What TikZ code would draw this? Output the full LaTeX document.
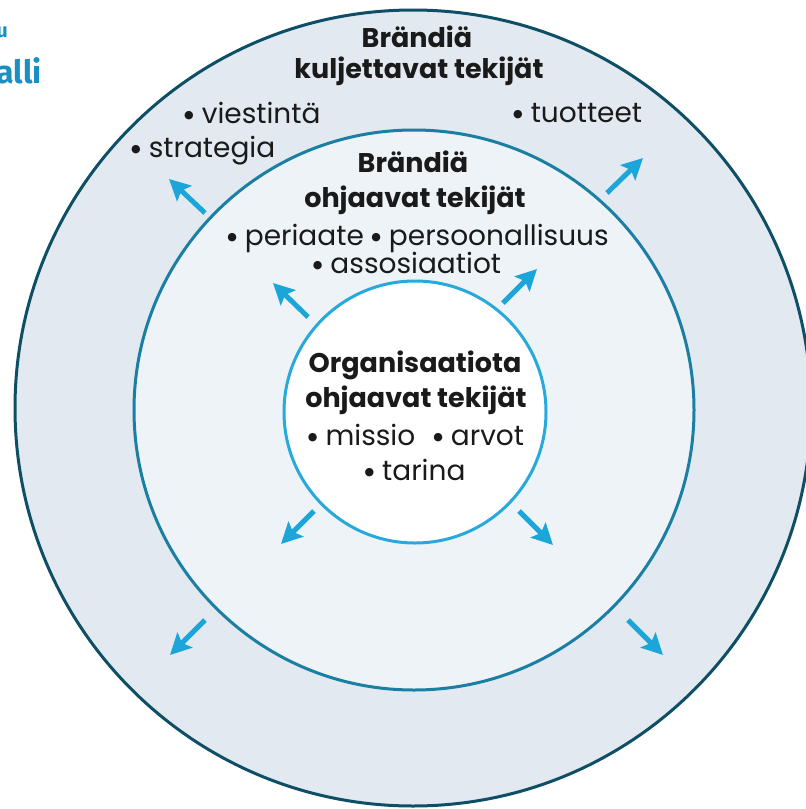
\documentclass[tikz,border=0pt]{standalone}
\usepackage{fontspec}
\setmainfont{Poppins}
\newfontfamily\titlefont{Fira Sans}
\newfontfamily\dejavu{DejaVu Sans}
\usetikzlibrary{arrows.meta}
\definecolor{outerfill}{HTML}{E2E9F0}
\definecolor{outerline}{HTML}{0E4F66}
\definecolor{midfill}{HTML}{EEF3F7}
\definecolor{midline}{HTML}{1B7FA3}
\definecolor{innerline}{HTML}{27A9DB}
\definecolor{arrowcol}{HTML}{1BA5D8}
\definecolor{titlecol}{HTML}{1A8FC0}
\definecolor{txt}{HTML}{1A1A1A}
\newcommand\bul{\raisebox{4.5pt}{\dejavu\fontsize{11}{11}\selectfont ●}\hspace{8pt}}
\tikzset{
  lbl/.style={inner sep=0pt, anchor=base, text=txt, font=\fontsize{28}{32}\selectfont},
  lblw/.style={lbl, anchor=base west},
  head/.style={lbl, font=\fontsize{27}{32}\selectfont\bfseries},
  flow/.style={draw=arrowcol, line width=5pt, -{Stealth[length=21pt,width=21pt,inset=4pt]}},
}
\begin{document}
\begin{tikzpicture}[x=1pt,y=-1pt]
\useasboundingbox (0,0) rectangle (806,809);
% circles
\fill[outerfill] (413,408) circle (398);
\draw[outerline, line width=3pt] (413,408) circle (398);
\fill[midfill] (414,410) circle (280);
\draw[midline, line width=3pt] (414,410) circle (280);
\fill[white] (415,412) circle (131);
\draw[innerline, line width=3pt] (415,412) circle (131);
% title fragments
\node[inner sep=0pt, anchor=base east, text=titlecol, font=\titlefont\bfseries\fontsize{20}{24}\selectfont] (t1) at (8,37) {u};
\node[inner sep=0pt, anchor=base east, text=titlecol, font=\titlefont\bfseries\fontsize{32}{36}\selectfont] (t2) at (42,83) {alli};
% outer ring texts
\node[head] (o1) at (417,47) {Brändiä};
\node[head] (o2) at (419,78) {kuljettavat tekijät};
\node[lblw] (o3) at (184,123) {\bul viestintä};
\node[lblw] (o4) at (131,157) {\bul strategia};
\node[lblw] (o5) at (513,122) {\bul tuotteet};
% middle ring texts
\node[head] (m1) at (413,172) {Brändiä};
\node[head] (m2) at (415,207) {ohjaavat tekijät};
\node[lbl] (m3) at (418,245) {\bul periaate \bul persoonallisuus};
\node[lbl] (m4) at (407,273) {\bul assosiaatiot};
% inner texts
\node[head] (i1) at (415,372) {Organisaatiota};
\node[head] (i2) at (416,407) {ohjaavat tekijät};
\node[lbl] (i3) at (416,445) {\bul missio\hspace{18pt}\bul arvot};
\node[lbl] (i4) at (415,480) {\bul tarina};
% arrow coordinates
\coordinate (a1s) at (308,317); \coordinate (a1e) at (273,283);
\coordinate (a2s) at (503,303); \coordinate (a2e) at (537,269);
\coordinate (a3s) at (314,511); \coordinate (a3e) at (281,544);
\coordinate (a4s) at (519,511); \coordinate (a4e) at (553,545);
\coordinate (b1s) at (205,213); \coordinate (b1e) at (169,179);
\coordinate (b2s) at (607,193); \coordinate (b2e) at (643,158);
\coordinate (b3s) at (205,620); \coordinate (b3e) at (170,655);
\coordinate (b4s) at (628,620); \coordinate (b4e) at (663,655);
\foreach \p in {a1,a2,a3,a4,b1,b2,b3,b4} \draw[flow] (\p s) -- (\p e);
\end{tikzpicture}
\end{document}
